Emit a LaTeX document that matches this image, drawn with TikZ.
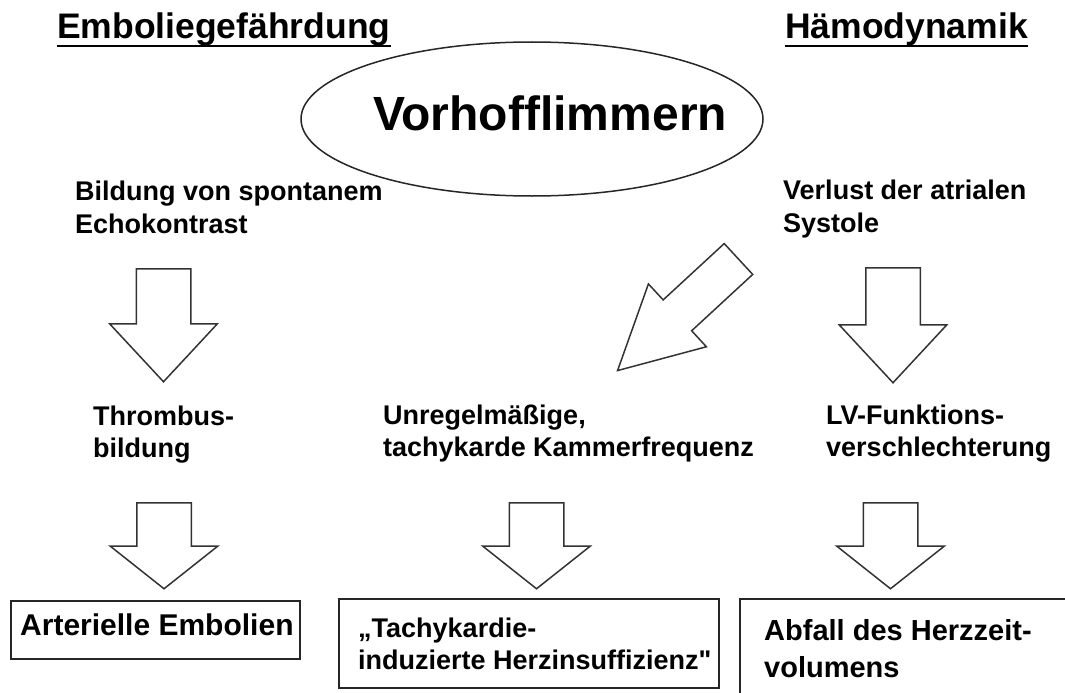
\documentclass[tikz,border=0pt]{standalone}
\usepackage{fontspec}
\setmainfont{Liberation Sans}
\newfontfamily\geradefont{Liberation Sans}
\usetikzlibrary{shapes.geometric,shapes.arrows}

\tikzset{
  lbl/.style={font=\bfseries\fontsize{27}{32}\selectfont, align=left, inner sep=0pt, anchor=base west},
  ttl/.style={font=\bfseries\fontsize{35.5}{40}\selectfont, inner sep=0pt, anchor=base west},
  kasten/.style={draw=black!85, line width=2pt, inner sep=0pt, anchor=north west},
  pfeil/.style={draw=black!80, line width=1.5pt, single arrow, inner xsep=0pt, inner ysep=26.5pt,
    anchor=tail, single arrow head extend=26.5pt},
}

\begin{document}
\begin{tikzpicture}[x=1pt,y=-1pt]
    \useasboundingbox (0,0) rectangle (1065,693);
    \clip (0,0) rectangle (1065,693);
    % titles
    \node[ttl] (emb) at (57,39) {Emboliegefährdung};
    \node[ttl] (haemo) at (785,39) {Hämodynamik};
    \draw[line width=2.5pt] ([yshift=-7pt]emb.base west) -- ([yshift=-7pt]emb.base east);
    \draw[line width=2.5pt] ([yshift=-7pt]haemo.base west) -- ([yshift=-7pt]haemo.base east);
    % center
    \node[draw=black!85, line width=1.5pt, ellipse, minimum width=462pt, minimum height=154pt, inner sep=0pt] (ell) at (532,119) {};
    \node[font=\bfseries\fontsize{48}{52}\selectfont, inner sep=0pt, anchor=base west] (vhf) at (373,130) {Vorhofflimmern};
    % first row (anchor = baseline of last line)
    \node[lbl, font=\bfseries\fontsize{27}{33}\selectfont] (bild) at (75,233) {Bildung von spontanem\\Echokontrast};
    \node[lbl, font=\bfseries\fontsize{27}{33}\selectfont] (verl) at (783,232) {Verlust der atrialen\\Systole};
    \node[pfeil, rotate=-90, minimum height=113pt, single arrow tip angle=85.8] (pa) at (163.5,268) {};
    \node[pfeil, rotate=-90, minimum height=115pt, single arrow tip angle=85.8] (pb) at (893,267) {};
    \node[pfeil, rotate=222.7, minimum height=164.5pt, inner ysep=20.25pt,
      single arrow head extend=21.75pt, single arrow tip angle=55.4] (pc) at (739,258.5) {};
    % second row
    \node[lbl] (thromb) at (93,457) {Thrombus-\\bildung};
    \node[lbl] (unreg) at (383,456) {Unregelmäßige,\\tachykarde Kammerfrequenz};
    \node[lbl] (lvf) at (826,456) {LV-Funktions-\\verschlechterung};
    \node[pfeil, rotate=-90, minimum height=86pt, single arrow tip angle=103.2] (pd) at (164,502) {};
    \node[pfeil, rotate=-90, minimum height=86pt, single arrow tip angle=103.2] (pe) at (536.5,502) {};
    \node[pfeil, rotate=-90, minimum height=86pt, single arrow tip angle=103.2] (pf) at (890.5,502) {};
    % results
    \node[kasten, minimum width=289pt, minimum height=58pt] (arter) at (10,600) {};
    \node[kasten, minimum width=380pt, minimum height=89pt] (tachy) at (338,598) {};
    \node[kasten, minimum width=340pt, minimum height=110pt] (abfall) at (739,598) {};
    \node[lbl, font=\bfseries\fontsize{30}{34}\selectfont] (arterT) at (20,635) {Arterielle Embolien};
    \node[lbl, font=\bfseries\fontsize{27}{32}\selectfont] (tachyT) at (358,669) {„Tachykardie-\\induzierte Herzinsuffizienz{\geradefont"}};
    \node[lbl, font=\bfseries\fontsize{29}{37}\selectfont] (abfallT) at (764,677) {Abfall des Herzzeit-\\volumens};
\end{tikzpicture}
\end{document}
